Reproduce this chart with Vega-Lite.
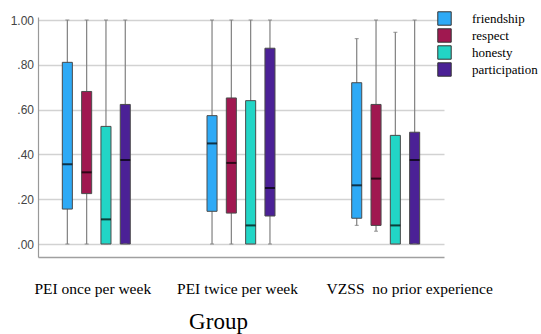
{
  "$schema": "https://vega.github.io/schema/vega-lite/v6.json",
  "width": 406,
  "height": 240,
  "autosize": {"type": "none"},
  "padding": {"left": 38, "top": 17, "right": 97, "bottom": 77},
  "background": "white",
  "config": {"view": {"stroke": null}},
  "data": {
    "values": [
      {"group": "PEI once per week", "var": "friendship", "lo": 0, "q1": 0.156, "med": 0.356, "q3": 0.811, "hi": 1},
      {"group": "PEI once per week", "var": "respect", "lo": 0, "q1": 0.225, "med": 0.32, "q3": 0.681, "hi": 1},
      {"group": "PEI once per week", "var": "honesty", "lo": 0, "q1": 0, "med": 0.11, "q3": 0.525, "hi": 1},
      {"group": "PEI once per week", "var": "participation", "lo": 0, "q1": 0, "med": 0.375, "q3": 0.623, "hi": 1},
      {"group": "PEI twice per week", "var": "friendship", "lo": 0, "q1": 0.146, "med": 0.449, "q3": 0.573, "hi": 1},
      {"group": "PEI twice per week", "var": "respect", "lo": 0, "q1": 0.138, "med": 0.362, "q3": 0.652, "hi": 1},
      {"group": "PEI twice per week", "var": "honesty", "lo": 0, "q1": 0, "med": 0.083, "q3": 0.64, "hi": 1},
      {"group": "PEI twice per week", "var": "participation", "lo": 0, "q1": 0.125, "med": 0.25, "q3": 0.874, "hi": 1},
      {"group": "VZSS\u00a0 no prior experience", "var": "friendship", "lo": 0.083, "q1": 0.115, "med": 0.262, "q3": 0.72, "hi": 0.917},
      {"group": "VZSS\u00a0 no prior experience", "var": "respect", "lo": 0.057, "q1": 0.083, "med": 0.292, "q3": 0.623, "hi": 1},
      {"group": "VZSS\u00a0 no prior experience", "var": "honesty", "lo": 0, "q1": 0, "med": 0.083, "q3": 0.485, "hi": 0.945},
      {"group": "VZSS\u00a0 no prior experience", "var": "participation", "lo": 0, "q1": 0, "med": 0.375, "q3": 0.499, "hi": 1}
    ]
  },
  "encoding": {
    "x": {
      "field": "group",
      "type": "nominal",
      "sort": null,
      "scale": {"paddingInner": 0.3, "paddingOuter": 0.053, "round": false},
      "axis": {
        "labelFont": "Liberation Serif",
        "labelFontSize": 15.5,
        "labelColor": "black",
        "labelAngle": 0,
        "labelPadding": 36,
        "labelBaseline": "alphabetic",
        "labelOverlap": false,
        "labelBound": false,
        "labelLimit": 300,
        "labelOffset": {"condition": {"test": "indexof(datum.value, 'VZSS') == 0", "value": 24}, "value": -3.5},
        "ticks": false,
        "tickSize": 0,
        "domainColor": "#a0a0a0",
        "domainWidth": 1.5,
        "grid": false,
        "title": "Group",
        "titleFont": "Liberation Serif",
        "titleFontSize": 23,
        "titleFontWeight": "normal",
        "titleColor": "black",
        "titleX": 180,
        "titleY": 71,
        "titleAlign": "center",
        "titleBaseline": "alphabetic"
      }
    },
    "xOffset": {
      "field": "var",
      "type": "nominal",
      "sort": ["friendship", "respect", "honesty", "participation"],
      "scale": {"paddingInner": 0.48, "paddingOuter": 0.8625, "round": false}
    }
  },
  "layer": [
    {
      "mark": {"type": "rule", "color": "#808080", "strokeWidth": 1.2},
      "encoding": {
        "y": {
          "field": "lo",
          "type": "quantitative",
          "title": null,
          "scale": {"domain": [-0.058, 1.0134], "nice": false, "zero": false},
          "axis": {
            "values": [0, 0.2, 0.4, 0.6, 0.8, 1],
            "labelExpr": "datum.value == 1 ? '1.00' : replace(format(datum.value, '.2f'), '0.', '.')",
            "labelFont": "Liberation Sans",
            "labelFontSize": 12,
            "labelColor": "#444444",
            "labelPadding": 4.5,
            "ticks": false,
            "tickSize": 0,
            "domainColor": "#999999",
            "domainWidth": 1.2,
            "grid": true,
            "gridColor": "#d2d2d2",
            "gridWidth": 1.3,
            "title": null
          }
        },
        "y2": {"field": "hi"}
      }
    },
    {
      "mark": {"type": "bar", "stroke": "#4a4a4a", "strokeWidth": 1},
      "encoding": {
        "y": {"field": "q1", "type": "quantitative", "title": null},
        "y2": {"field": "q3"},
        "color": {
          "field": "var",
          "type": "nominal",
          "scale": {
            "domain": ["friendship", "respect", "honesty", "participation"],
            "range": ["#2eaaf6", "#a01850", "#22d5c6", "#4b2196"]
          },
          "legend": {
            "orient": "none",
            "legendX": 399,
            "legendY": -6,
            "padding": 0,
            "title": null,
            "symbolType": "square",
            "symbolSize": 180,
            "symbolStrokeColor": "#333333",
            "symbolStrokeWidth": 1,
            "symbolOpacity": 1,
            "labelFont": "Liberation Serif",
            "labelFontSize": 13,
            "labelColor": "black",
            "labelOffset": 20,
            "rowPadding": -4.7
          }
        }
      }
    },
    {
      "mark": {"type": "tick", "color": "black", "thickness": 2, "size": 10},
      "encoding": {"y": {"field": "med", "type": "quantitative", "title": null}}
    },
    {
      "mark": {"type": "tick", "color": "#808080", "thickness": 1.2, "size": 4},
      "encoding": {"y": {"field": "hi", "type": "quantitative", "title": null}}
    },
    {
      "mark": {"type": "tick", "color": "#808080", "thickness": 1.2, "size": 4},
      "encoding": {"y": {"field": "lo", "type": "quantitative", "title": null}}
    }
  ]
}
